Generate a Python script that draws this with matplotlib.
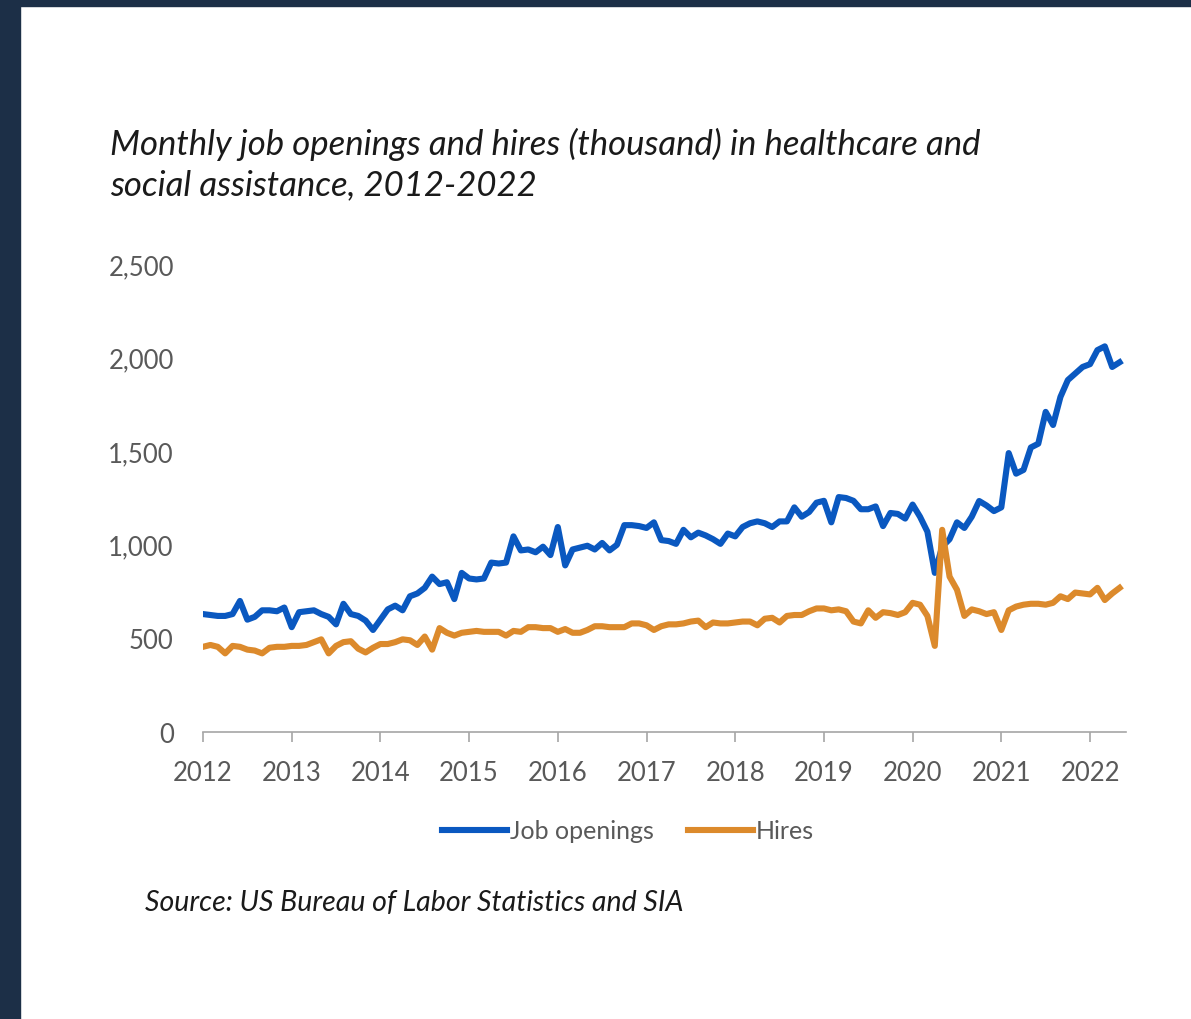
import numpy as np
import matplotlib.pyplot as plt
from matplotlib.patches import Rectangle

# monthly values, Jan 2012 .. May 2022 (thousand)
openings = [
    630, 625, 620, 620, 630, 700, 600, 615, 650, 650, 645, 665,   # 2012
    560, 640, 645, 650, 630, 615, 575, 685, 630, 620, 595, 545,   # 2013
    600, 655, 675, 650, 725, 740, 770, 830, 790, 800, 710, 850,   # 2014
    820, 815, 820, 905, 900, 905, 1045, 970, 975, 960, 990, 945,  # 2015
    1095, 890, 975, 985, 995, 975, 1010, 970, 1000, 1105, 1105, 1100,  # 2016
    1090, 1120, 1025, 1020, 1005, 1080, 1040, 1065, 1050, 1030, 1005, 1060,  # 2017
    1045, 1095, 1115, 1125, 1115, 1095, 1125, 1125, 1200, 1150, 1175, 1225,  # 2018
    1235, 1120, 1255, 1250, 1235, 1190, 1190, 1205, 1100, 1170, 1165, 1140,  # 2019
    1215, 1150, 1070, 850, 990, 1030, 1120, 1090, 1150, 1234, 1210, 1180,   # 2020
    1200, 1490, 1380, 1400, 1520, 1540, 1710, 1640, 1790, 1880, 1915, 1950,  # 2021
    1965, 2040, 2060, 1950, 1975,                                            # 2022
]
hires = [
    455, 465, 455, 420, 460, 455, 440, 435, 420, 450, 455, 455,   # 2012
    460, 460, 465, 480, 495, 420, 460, 480, 485, 445, 425, 450,   # 2013
    470, 470, 480, 495, 490, 465, 510, 440, 555, 530, 515, 530,   # 2014
    535, 540, 535, 535, 535, 515, 540, 535, 560, 560, 555, 555,   # 2015
    535, 550, 530, 530, 545, 565, 565, 560, 560, 560, 580, 580,   # 2016
    570, 545, 565, 575, 575, 580, 590, 595, 560, 585, 580, 580,   # 2017
    585, 590, 590, 570, 605, 610, 585, 620, 625, 625, 645, 660,   # 2018
    660, 650, 655, 645, 590, 580, 650, 610, 640, 635, 625, 640,   # 2019
    690, 680, 620, 460, 1080, 830, 760, 620, 655, 645, 630, 640,  # 2020
    545, 650, 670, 680, 685, 685, 680, 690, 725, 710, 745, 740,   # 2021
    735, 770, 705, 740, 770,                                      # 2022
]
years = list(range(2012, 2023))
yticks = [0, 500, 1000, 1500, 2000, 2500]

t = 2012 + np.arange(len(openings)) / 12

plt.rcParams['font.family'] = ['Lato', 'DejaVu Sans']

fig = plt.figure(figsize=(11.91, 10.2), dpi=100)
fig.patch.set_facecolor('white')
navy = '#1c2f47'
fig.add_artist(Rectangle((0, 0), 20 / 1191, 1, transform=fig.transFigure, color=navy, zorder=0))
fig.add_artist(Rectangle((0, 1 - 7 / 1020), 1, 7 / 1020, transform=fig.transFigure, color=navy, zorder=0))

ax = fig.add_axes([203 / 1191, 1 - 733 / 1020, (1125.5 - 203) / 1191, (733 - 265) / 1020])
blue = '#0a58c0'
orange = '#dc8a2c'
ax.plot(t, openings, color=blue, lw=4.4, label='Job openings', solid_joinstyle='round')
ax.plot(t, hires, color=orange, lw=4.4, label='Hires', solid_joinstyle='round')

ax.set_xlim(2012, 2022.4)
ax.set_ylim(0, 2500)
ax.set_xticks(years)
ax.set_xticklabels([str(y) for y in years])
ax.set_yticks(yticks)
ax.set_yticklabels([f'{v:,}' for v in yticks])
for s in ['top', 'right', 'left']:
    ax.spines[s].set_visible(False)
ax.spines['bottom'].set_color('#a6a6a6')
ax.spines['bottom'].set_linewidth(1.2)
ax.tick_params(axis='x', direction='out', length=7, width=1.2, color='#a6a6a6',
               labelsize=18.5, labelcolor='#595959', pad=13)
ax.tick_params(axis='y', length=0, labelsize=18.5, labelcolor='#595959', pad=21)
ax.set_facecolor('white')

fig.text(110 / 1191, 1 - 128 / 1020,
         'Monthly job openings and hires (thousand) in healthcare and\nsocial assistance, 2012-2022',
         fontsize=25, style='italic', color='#1a1a1a', va='top', ha='left', linespacing=1.3)
fig.text(145 / 1191, 1 - 903 / 1020, 'Source: US Bureau of Labor Statistics and SIA',
         fontsize=20.5, style='italic', color='#1a1a1a', va='center', ha='left')

fig.legend(loc='center', bbox_to_anchor=(628 / 1191, 1 - 832 / 1020), ncol=2, frameon=False,
           fontsize=18, labelcolor='#595959', handlelength=2.6, handletextpad=0.1,
           columnspacing=1.4)

fig.savefig('out.png', dpi=100)
